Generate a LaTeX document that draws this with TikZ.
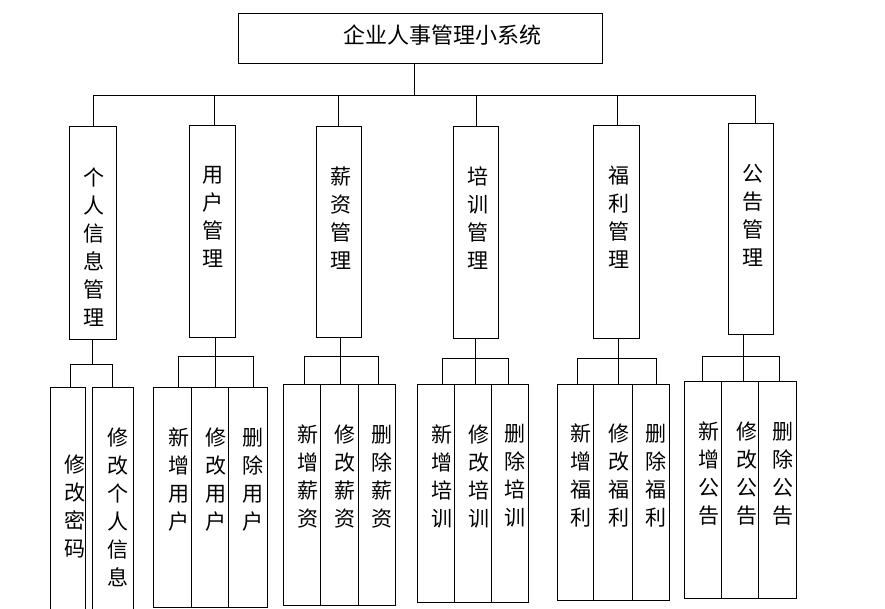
\documentclass[tikz,border=0pt]{standalone}
\usepackage{fontspec}
\newfontfamily\cjk{Noto Sans CJK SC}
\begin{document}
\begin{tikzpicture}[x=1pt,y=-1pt,
  box/.style={draw, line width=1pt, inner sep=0pt},
  vt/.style={inner sep=0pt, align=center, font=\cjk\fontsize{21}{28}\selectfont},
  ln/.style={line width=1pt}]
\useasboundingbox (0,0) rectangle (885,608);
\clip (0,0) rectangle (885,608);
% root
\node[box, minimum width=364pt, minimum height=50pt] (root) at (420,38) {};
\node[inner sep=0pt, font=\cjk\fontsize{22}{26}\selectfont] (roott) at (442,35) {企业人事管理小系统};
% level 2 boxes
\node[box, minimum width=47pt, minimum height=213pt] (b1) at (92.5,232.5) {};
\node[box, minimum width=46pt, minimum height=212pt] (b2) at (212,231) {};
\node[box, minimum width=45pt, minimum height=211pt] (b3) at (338.5,231.5) {};
\node[box, minimum width=45pt, minimum height=212pt] (b4) at (475.5,232) {};
\node[box, minimum width=46pt, minimum height=213pt] (b5) at (616,231.5) {};
\node[box, minimum width=45pt, minimum height=211pt] (b6) at (750.5,228.5) {};
\node[vt] (t1) at (94,247) {个\\人\\信\\息\\管\\理};
\node[vt] (t2) at (213,216.5) {用\\户\\管\\理};
\node[vt] (t3) at (341,218) {薪\\资\\管\\理};
\node[vt] (t4) at (478,218.5) {培\\训\\管\\理};
\node[vt] (t5) at (619,217) {福\\利\\管\\理};
\node[vt] (t6) at (753,215) {公\\告\\管\\理};
% level 3 boxes
\node[box, minimum width=35pt, minimum height=240pt] (a11) at (67.5,507) {};
\node[box, minimum width=41pt, minimum height=240pt] (a12) at (112.5,507) {};
\node[box, minimum width=38pt, minimum height=220pt] (a21) at (172,497) {};
\node[box, minimum width=37pt, minimum height=220pt] (a22) at (209.5,497) {};
\node[box, minimum width=39pt, minimum height=220pt] (a23) at (247.5,497) {};
\node[box, minimum width=37pt, minimum height=221pt] (a31) at (301.5,494.5) {};
\node[box, minimum width=38pt, minimum height=221pt] (a32) at (339,494.5) {};
\node[box, minimum width=37pt, minimum height=221pt] (a33) at (376.5,494.5) {};
\node[box, minimum width=37pt, minimum height=218pt] (a41) at (435.5,493) {};
\node[box, minimum width=37pt, minimum height=218pt] (a42) at (472.5,493) {};
\node[box, minimum width=37pt, minimum height=218pt] (a43) at (509.5,493) {};
\node[box, minimum width=36pt, minimum height=216pt] (a51) at (575,492) {};
\node[box, minimum width=39pt, minimum height=216pt] (a52) at (612.5,492) {};
\node[box, minimum width=37pt, minimum height=216pt] (a53) at (650.5,492) {};
\node[box, minimum width=37pt, minimum height=217pt] (a61) at (702.5,489.5) {};
\node[box, minimum width=37pt, minimum height=217pt] (a62) at (739.5,489.5) {};
\node[box, minimum width=38pt, minimum height=217pt] (a63) at (777,489.5) {};
% level 3 texts
\node[vt] (s11) at (75,506.5) {修\\改\\密\\码};
\node[vt] (s12) at (118,507) {修\\改\\个\\人\\信\\息};
\node[vt] (s21) at (179,479.5) {新\\增\\用\\户};
\node[vt] (s22) at (216,479.5) {修\\改\\用\\户};
\node[vt] (s23) at (253,479.5) {删\\除\\用\\户};
\node[vt] (s31) at (308,476.5) {新\\增\\薪\\资};
\node[vt] (s32) at (345,476.5) {修\\改\\薪\\资};
\node[vt] (s33) at (382,476.5) {删\\除\\薪\\资};
\node[vt] (s41) at (442,476) {新\\增\\培\\训};
\node[vt] (s42) at (479,476) {修\\改\\培\\训};
\node[vt] (s43) at (515,476) {删\\除\\培\\训};
\node[vt] (s51) at (581,475.5) {新\\增\\福\\利};
\node[vt] (s52) at (619,475.5) {修\\改\\福\\利};
\node[vt] (s53) at (656,475.5) {删\\除\\福\\利};
\node[vt] (s61) at (709,473.5) {新\\增\\公\\告};
\node[vt] (s62) at (747,473.5) {修\\改\\公\\告};
\node[vt] (s63) at (783,473.5) {删\\除\\公\\告};
% level 1 -> level 2 connectors
\coordinate (j0) at (414,95);
\coordinate (busL) at (93,95);
\coordinate (busR) at (756,95);
\draw[ln] (root.south -| j0) -- (j0);
\draw[ln] (busL) -- (busR);
\coordinate (d1) at (93,95);
\coordinate (d2) at (214,95);
\coordinate (d3) at (338,95);
\coordinate (d4) at (476,95);
\coordinate (d5) at (617,95);
\coordinate (d6) at (755,95);
\draw[ln] (d1) -- (b1.north -| d1);
\draw[ln] (d2) -- (b2.north -| d2);
\draw[ln] (d3) -- (b3.north -| d3);
\draw[ln] (d4) -- (b4.north -| d4);
\draw[ln] (d5) -- (b5.north -| d5);
\draw[ln] (d6) -- (b6.north -| d6);
% group 1
\coordinate (g1) at (92,364);
\coordinate (g1a) at (70,364);
\coordinate (g1b) at (112,364);
\draw[ln] (b1.south -| g1) -- (g1);
\draw[ln] (g1a) -- (g1b);
\draw[ln] (g1a) -- (a11.north -| g1a);
\draw[ln] (g1b) -- (a12.north -| g1b);
% group 2
\coordinate (g2) at (215,356);
\coordinate (g2a) at (178,356);
\coordinate (g2c) at (253,356);
\draw[ln] (b2.south -| g2) -- (g2);
\draw[ln] (g2a) -- (g2c);
\draw[ln] (g2a) -- (a21.north -| g2a);
\draw[ln] (g2) -- (a22.north -| g2);
\draw[ln] (g2c) -- (a23.north -| g2c);
% group 3
\coordinate (g3) at (340,356);
\coordinate (g3a) at (304,356);
\coordinate (g3c) at (378,356);
\draw[ln] (b3.south -| g3) -- (g3);
\draw[ln] (g3a) -- (g3c);
\draw[ln] (g3a) -- (a31.north -| g3a);
\draw[ln] (g3) -- (a32.north -| g3);
\draw[ln] (g3c) -- (a33.north -| g3c);
% group 4
\coordinate (g4) at (475,358);
\coordinate (g4a) at (442,358);
\coordinate (g4c) at (508,358);
\draw[ln] (b4.south -| g4) -- (g4);
\draw[ln] (g4a) -- (g4c);
\draw[ln] (g4a) -- (a41.north -| g4a);
\draw[ln] (g4) -- (a42.north -| g4);
\draw[ln] (g4c) -- (a43.north -| g4c);
% group 5
\coordinate (g5) at (618,358);
\coordinate (g5a) at (577,358);
\coordinate (g5c) at (656,358);
\draw[ln] (b5.south -| g5) -- (g5);
\draw[ln] (g5a) -- (g5c);
\draw[ln] (g5a) -- (a51.north -| g5a);
\draw[ln] (g5) -- (a52.north -| g5);
\draw[ln] (g5c) -- (a53.north -| g5c);
% group 6
\coordinate (g6) at (743,356);
\coordinate (g6a) at (702,356);
\coordinate (g6c) at (779,356);
\draw[ln] (b6.south -| g6) -- (g6);
\draw[ln] (g6a) -- (g6c);
\draw[ln] (g6a) -- (a61.north -| g6a);
\draw[ln] (g6) -- (a62.north -| g6);
\draw[ln] (g6c) -- (a63.north -| g6c);
\end{tikzpicture}
\end{document}
